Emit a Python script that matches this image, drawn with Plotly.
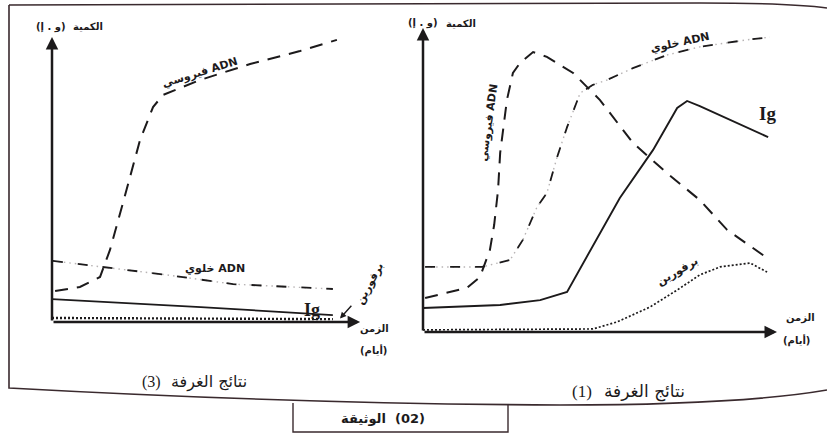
import plotly.graph_objects as go

# ---------------- Chamber (3) : left panel ----------------
c3_viral_t = [0.10, 0.90, 1.55, 1.87, 2.29, 2.84, 3.26, 3.58, 4.77, 6.39, 8.00, 9.19]
c3_viral_q = [1.08, 1.22, 1.57, 2.51, 4.15, 6.34, 7.49, 7.91, 8.43, 8.99, 9.44, 9.83]

c3_cell_t = [0.03, 1.65, 3.71, 5.84, 9.06]
c3_cell_q = [2.13, 1.92, 1.64, 1.32, 1.15]

c3_ig_t = [0.00, 4.80, 9.06]
c3_ig_q = [0.80, 0.52, 0.24]

c3_perf_t = [0.00, 9.06]
c3_perf_q = [0.14, 0.10]

# ---------------- Chamber (1) : right panel ----------------
c1_viral_t = [0.06, 1.24, 1.61, 1.89, 2.01, 2.12, 2.18, 2.37, 2.54, 2.74, 3.11, 3.50,
              4.24, 5.00, 5.93, 6.89, 7.82, 8.59, 9.80]
c1_viral_q = [1.12, 1.45, 1.81, 2.70, 3.52, 4.67, 5.89, 7.63, 8.52, 8.85, 9.21, 9.05,
              8.52, 7.63, 6.22, 5.23, 4.34, 3.36, 2.37]

c1_cell_t = [0.06, 1.67, 2.46, 2.82, 3.22, 3.50, 3.79, 4.07, 4.44, 4.80, 5.20, 5.93,
             6.89, 7.82, 9.15, 9.80]
c1_cell_q = [2.14, 2.14, 2.37, 3.03, 4.11, 4.57, 5.76, 6.74, 7.86, 8.13, 8.29, 8.68,
             9.11, 9.38, 9.61, 9.70]

c1_ig_t = [0.00, 2.18, 3.31, 4.07, 5.56, 6.50, 7.18, 7.46, 7.82, 9.75]
c1_ig_q = [0.79, 0.89, 1.05, 1.32, 4.41, 5.99, 7.37, 7.60, 7.43, 6.41]

c1_perf_t = [0.00, 4.80, 5.48, 6.41, 7.18, 7.82, 8.39, 9.24, 9.72]
c1_perf_q = [0.07, 0.10, 0.33, 0.82, 1.38, 1.88, 2.14, 2.27, 1.97]

# ---------------- Text ----------------
y_title_word = "الكمية"
y_title_unit = "(و . إ)"
x_title_1 = "الزمن"
x_title_2 = "(أيام)"
lbl_viral = "فيروسي ADN"
lbl_cell = "خلوي ADN"
lbl_ig = "Ig"
lbl_perf = "برفورين"
panel_title_words = "نتائج الغرفة"
panel3_num = "(3)"
panel1_num = "(1)"
doc_word = "الوثيقة"
doc_num = "(02)"

W, H = 827, 441
INK = "#1c1a1b"
AR_FONT = "DejaVu Sans"
SERIF = "Liberation Serif, DejaVu Serif, serif"


def px(v):
    return v / W


def py(v):
    return 1 - v / H


fig = go.Figure()

DASH_VIRAL = "13px,9px"
DASH_CELL = "10px,15px"
DOT = "2px,2px"


def add_series(t, q, xa, ya, dash, width=1.8, color=INK):
    fig.add_trace(go.Scatter(
        x=t, y=q, xaxis=xa, yaxis=ya, mode="lines",
        line=dict(color=color, width=width, dash=dash),
        hoverinfo="skip", showlegend=False, cliponaxis=False,
    ))


# left panel (chamber 3)
add_series(c3_viral_t, c3_viral_q, "x", "y", DASH_VIRAL, 2.0)
add_series(c3_cell_t, c3_cell_q, "x", "y", "1.5px,4px", 1.4, "#b8b4b5")
add_series(c3_cell_t, c3_cell_q, "x", "y", DASH_CELL, 1.8)
add_series(c3_ig_t, c3_ig_q, "x", "y", "solid", 1.7)
add_series(c3_perf_t, c3_perf_q, "x", "y", DOT, 2.4)

# right panel (chamber 1)
add_series(c1_viral_t, c1_viral_q, "x2", "y2", DASH_VIRAL, 2.0)
add_series(c1_cell_t, c1_cell_q, "x2", "y2", "1.5px,4px", 1.4, "#b8b4b5")
add_series(c1_cell_t, c1_cell_q, "x2", "y2", DASH_CELL, 1.8)
add_series(c1_ig_t, c1_ig_q, "x2", "y2", "solid", 1.9)
add_series(c1_perf_t, c1_perf_q, "x2", "y2", DOT, 1.7)

hidden = dict(showgrid=False, zeroline=False, showticklabels=False,
              showline=False, ticks="", fixedrange=True)

fig.update_layout(
    width=W, height=H,
    margin=dict(l=0, r=0, t=0, b=0),
    paper_bgcolor="white", plot_bgcolor="white",
    showlegend=False,
    xaxis=dict(domain=[px(52), px(362)], range=[0, 10], **hidden),
    yaxis=dict(domain=[py(322), py(35)], range=[0, 10], **hidden),
    xaxis2=dict(domain=[px(423), px(777)], range=[0, 10], anchor="y2", **hidden),
    yaxis2=dict(domain=[py(332), py(28)], range=[0, 10], anchor="x2", **hidden),
)

ann = []


def axis_arrow(xr, yr, x0, y0, x1, y1):
    ann.append(dict(xref=xr, yref=yr, axref=xr, ayref=yr,
                    x=x1, y=y1, ax=x0, ay=y0, text="", showarrow=True,
                    arrowhead=2, arrowsize=1.0, arrowwidth=2.5, arrowcolor=INK,
                    standoff=0, startstandoff=0))


# axes with arrowheads
axis_arrow("x", "y", 0, 0, 0, 9.93)
axis_arrow("x", "y", 0, 0, 9.94, 0)
axis_arrow("x2", "y2", 0, 0, 0, 10)
axis_arrow("x2", "y2", 0, 0, 10, 0)


def label(xr, yr, x, y, text, size=11, angle=0, font=AR_FONT, bold=True,
          anchor="center"):
    t = f"<b>{text}</b>" if bold else text
    ann.append(dict(xref=xr, yref=yr, x=x, y=y, text=t, showarrow=False,
                    textangle=angle, xanchor=anchor, yanchor="middle",
                    font=dict(family=font, size=size, color=INK)))


def split_label(x_gap, y, left_text, right_text, size, bold, gap=3,
                left_font=AR_FONT):
    # two pieces of a right-to-left caption, placed on either side of x_gap
    label("paper", "paper", px(x_gap - gap / 2), py(y), left_text, size,
          0, left_font, bold, "right")
    label("paper", "paper", px(x_gap + gap / 2), py(y), right_text, size,
          0, AR_FONT, bold, "left")


# left panel labels
split_label(69, 27, y_title_unit, y_title_word, 10, True)
label("x", "y", 4.77, 8.68, lbl_viral, 11, -17)
label("x", "y", 5.26, 1.85, lbl_cell, 11, 0)
label("x", "y", 8.39, 0.42, lbl_ig, 18, 0, SERIF)
label("paper", "paper", px(369), py(284), lbl_perf, 11, -62)
ann.append(dict(xref="x", yref="y", axref="x", ayref="y",
                x=9.29, y=0.12, ax=9.70, ay=0.62, text="", showarrow=True,
                arrowhead=2, arrowsize=0.9, arrowwidth=1.4, arrowcolor=INK,
                standoff=0, startstandoff=0))
label("paper", "paper", px(374), py(329), x_title_1, 10)
label("paper", "paper", px(373), py(350), x_title_2, 10)
split_label(166, 382, panel3_num, panel_title_words, 16, False, 6, SERIF)

# right panel labels
split_label(442, 23, y_title_unit, y_title_word, 10, True)
label("x2", "y2", 7.26, 9.51, lbl_cell, 11, -12)
label("x2", "y2", 1.86, 6.88, lbl_viral, 11, -82)
label("x2", "y2", 9.72, 7.20, lbl_ig, 19, 0, SERIF)
label("x2", "y2", 7.18, 1.98, lbl_perf, 11, -30)
label("paper", "paper", px(800), py(318), x_title_1, 10)
label("paper", "paper", px(796), py(340), x_title_2, 10)
split_label(598, 391, panel1_num, panel_title_words, 17, False, 8, SERIF)

# document caption
split_label(390, 418, doc_word, doc_num, 13, True, 5)

fig.update_layout(annotations=ann)


# frame around both panels and the caption box
def P(x, y):
    return f"{px(x):.5f},{py(y):.5f}"


frame = (f"M {P(9, 5)} L {P(9, 388)} Q {P(300, 404)} {P(560, 405)} "
         f"Q {P(740, 405)} {P(827, 390)}")
top = f"M {P(9, 5)} L {P(700, 3)} Q {P(790, 3)} {P(827, 8)}"
box = f"M {P(293, 403)} L {P(293, 432)} L {P(508, 432)} L {P(508, 404)}"

fig.update_layout(shapes=[
    dict(type="path", xref="paper", yref="paper", path=frame,
         line=dict(color="#3a2a2e", width=1.6)),
    dict(type="path", xref="paper", yref="paper", path=top,
         line=dict(color="#3a2a2e", width=1.6)),
    dict(type="path", xref="paper", yref="paper", path=box,
         line=dict(color="#3a2a2e", width=1.4)),
])

fig.write_html("out.html")
